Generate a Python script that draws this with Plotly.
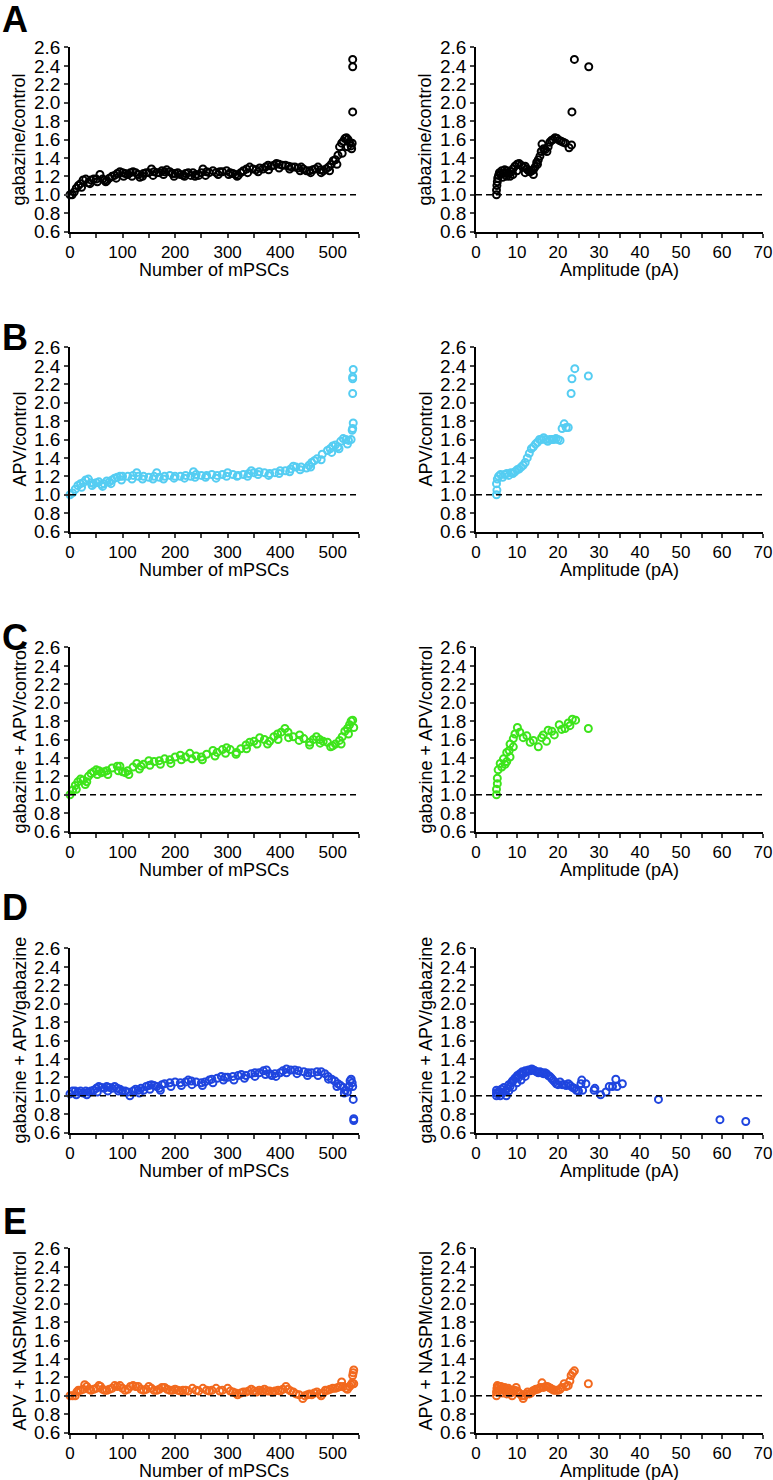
import plotly.graph_objects as go

# ratio vs cumulative rank of mPSCs (left column), ratio vs amplitude (right column)
gab_rank = [(0,1.0),(4,1.0),(8,1.03),(12,1.07),(16,1.1),(20,1.12),(25,1.16),(30,1.17),(35,1.13),(40,1.16),
            (45,1.17),(50,1.17),(57,1.22),(62,1.17),(66,1.16),(70,1.15),(75,1.18),(80,1.2),(85,1.21),(90,1.23),
            (95,1.25),(100,1.24),(105,1.23),(110,1.22),(115,1.24),(120,1.25),(125,1.24),(130,1.22),(133,1.19),
            (140,1.23),(145,1.24),(150,1.24),(155,1.28),(160,1.25),(165,1.24),(170,1.24),(175,1.26),(180,1.25),
            (184,1.27),(190,1.25),(195,1.23),(200,1.23),(205,1.24),(210,1.22),(215,1.21),(220,1.23),(225,1.24),
            (230,1.21),(234,1.24),(240,1.22),(245,1.21),(250,1.24),(253,1.28),(260,1.25),(265,1.24),(272,1.26),
            (278,1.24),(285,1.25),(290,1.25),(298,1.26),(305,1.24),(310,1.23),(315,1.22),(320,1.21),(325,1.24),
            (330,1.26),(336,1.28),(342,1.3),(348,1.28),(354,1.27),(361,1.29),(367,1.28),(372,1.3),(377,1.32),
            (383,1.31),(388,1.32),(393,1.34),(398,1.33),(404,1.32),(410,1.32),(416,1.31),(422,1.3),(428,1.3),
            (434,1.29),(440,1.3),(444,1.28),(450,1.26),(456,1.26),(462,1.27),(467,1.28),(472,1.3),(477,1.27),
            (482,1.26),(487,1.28),(492,1.3),(497,1.33),(501,1.37),(505,1.38),(510,1.43),(513,1.52),(517,1.56),
            (520,1.58),(523,1.61),(526,1.62),(529,1.6),(532,1.57),(535,1.53),(537,1.56),(538,1.9),(538,2.39),(538,2.47)]
gab_rank_low = [(22,1.08),(38,1.12),(52,1.14),(68,1.14),(88,1.18),(102,1.2),(118,1.2),(138,1.2),(158,1.21),
                (178,1.22),(198,1.2),(218,1.2),(238,1.2),(258,1.21),(282,1.22),(302,1.22),(318,1.2),(338,1.24),
                (358,1.25),(378,1.27),(398,1.29),(418,1.28),(438,1.26),(458,1.24),(478,1.24),(494,1.26),
                (508,1.33),(518,1.45),(528,1.52),(536,1.5)]
gab_amp = [(5.0,1.0),(5.0,1.05),(5.1,1.1),(5.2,1.14),(5.3,1.18),(5.5,1.21),(5.7,1.24),(6.0,1.22),(6.3,1.26),
           (6.5,1.19),(6.6,1.23),(7.0,1.27),(7.3,1.24),(7.5,1.2),(7.6,1.26),(8.0,1.23),(8.3,1.2),(8.6,1.25),
           (9.0,1.28),(9.0,1.22),(9.5,1.31),(10.0,1.33),(10.0,1.26),(10.5,1.34),(11.0,1.32),(11.5,1.3),(12.0,1.31),
           (12.0,1.24),(12.4,1.28),(12.8,1.26),(13.2,1.25),(13.6,1.26),(14.0,1.27),(14.0,1.22),(14.4,1.3),
           (14.8,1.35),(15.0,1.33),(15.2,1.38),(15.6,1.42),(15.9,1.47),(16.1,1.55),(16.5,1.5),(16.9,1.49),
           (17.3,1.47),(17.6,1.52),(18.0,1.57),(18.4,1.59),(18.8,1.6),(19.3,1.62),(19.8,1.61),(20.3,1.59),
           (20.8,1.58),(21.3,1.57),(21.8,1.56),(22.7,1.51),(23.3,1.54),(23.4,1.9),(24.0,2.47),(27.5,2.39)]

apv_rank = [(0,1.0),(5,1.02),(10,1.06),(15,1.1),(20,1.12),(25,1.13),(30,1.16),(35,1.17),(40,1.13),(45,1.12),
            (50,1.13),(55,1.14),(60,1.11),(65,1.12),(70,1.15),(75,1.14),(80,1.16),(85,1.18),(90,1.19),(95,1.2),
            (100,1.2),(110,1.2),(120,1.21),(127,1.24),(130,1.2),(140,1.2),(150,1.19),(160,1.2),(165,1.24),
            (170,1.19),(180,1.2),(190,1.21),(200,1.2),(210,1.2),(220,1.21),(230,1.2),(235,1.25),(240,1.22),
            (250,1.21),(260,1.21),(270,1.22),(280,1.21),(290,1.22),(300,1.24),(310,1.22),(320,1.21),(330,1.22),
            (340,1.23),(345,1.26),(350,1.24),(360,1.25),(370,1.24),(380,1.23),(390,1.24),(400,1.26),(410,1.26),
            (420,1.28),(425,1.31),(430,1.3),(440,1.3),(450,1.29),(455,1.32),(460,1.35),(465,1.37),(470,1.39),
            (480,1.44),(490,1.48),(495,1.5),(500,1.53),(505,1.54),(510,1.52),(515,1.58),(520,1.61),(525,1.6),
            (530,1.59),(535,1.6),(537,1.7),(538,1.72),(539,1.78),(538,2.1),(538,2.26),(538,2.28),(539,2.36)]
apv_rank_low = [(22,1.08),(42,1.1),(62,1.09),(78,1.12),(98,1.16),(118,1.17),(138,1.17),(158,1.17),(178,1.17),
                (198,1.18),(218,1.18),(238,1.19),(258,1.19),(278,1.18),(298,1.2),(318,1.2),(338,1.2),(358,1.22),
                (378,1.21),(398,1.23),(418,1.25),(438,1.27),(458,1.3),(478,1.38),(498,1.46),(512,1.5),(528,1.55)]
apv_amp = [(5.0,1.0),(5.1,1.05),(5.0,1.12),(5.2,1.17),(5.5,1.2),(6.0,1.22),(6.5,1.19),(7.0,1.22),(7.5,1.23),
           (8.0,1.21),(8.5,1.24),(9.0,1.23),(9.5,1.25),(10.0,1.27),(10.5,1.28),(11.0,1.3),(11.5,1.32),(12.0,1.35),
           (12.5,1.4),(13.0,1.45),(13.5,1.5),(14.0,1.52),(14.5,1.55),(15.0,1.57),(15.5,1.6),(16.0,1.6),(16.5,1.62),
           (17.0,1.6),(17.5,1.58),(18.0,1.6),(18.5,1.6),(19.0,1.6),(19.5,1.61),(20.0,1.6),(20.5,1.59),(21.0,1.72),
           (21.5,1.77),(22.0,1.73),(22.5,1.73),(23.2,2.1),(23.4,2.26),(24.1,2.37),(27.4,2.29)]

gab_apv_rank = [(0,1.0),(5,1.05),(10,1.1),(15,1.14),(20,1.17),(25,1.16),(29,1.11),(35,1.2),(40,1.23),(45,1.25),
                (50,1.27),(55,1.26),(60,1.24),(65,1.25),(70,1.26),(80,1.29),(90,1.31),(95,1.31),(100,1.25),
                (105,1.24),(110,1.26),(120,1.3),(127,1.34),(135,1.31),(140,1.33),(150,1.37),(160,1.36),(170,1.37),
                (180,1.39),(190,1.38),(200,1.41),(210,1.43),(220,1.41),(228,1.45),(240,1.42),(250,1.41),(260,1.44),
                (272,1.48),(280,1.46),(290,1.49),(298,1.51),(305,1.49),(317,1.46),(325,1.5),(335,1.54),(342,1.57),
                (350,1.58),(361,1.62),(370,1.6),(380,1.58),(388,1.63),(395,1.66),(402,1.68),(409,1.72),(415,1.68),
                (425,1.63),(437,1.65),(445,1.61),(456,1.57),(463,1.6),(469,1.63),(475,1.6),(482,1.58),(490,1.57),
                (500,1.53),(505,1.55),(513,1.59),(518,1.63),(523,1.69),(528,1.72),(532,1.76),(535,1.8),(538,1.81),
                (540,1.73)]
gab_apv_rank_low = [(12,1.06),(32,1.14),(52,1.22),(72,1.22),(92,1.26),(112,1.22),(132,1.28),(152,1.32),
                    (172,1.33),(192,1.34),(212,1.38),(232,1.39),(252,1.38),(276,1.42),(296,1.45),(316,1.44),
                    (336,1.5),(356,1.55),(376,1.55),(396,1.6),(416,1.62),(436,1.59),(456,1.54),(476,1.56),
                    (496,1.52),(516,1.55),(530,1.66)]
gab_apv_amp = [(5.0,1.0),(5.0,1.06),(5.2,1.12),(5.2,1.18),(5.4,1.27),(5.9,1.34),(6.3,1.3),(6.7,1.39),(7.1,1.33),
               (7.5,1.46),(7.5,1.36),(8.1,1.48),(8.3,1.41),(8.3,1.55),(9.1,1.61),(9.1,1.52),(9.5,1.66),(10.1,1.73),
               (10.7,1.68),(11.5,1.62),(12.4,1.64),(13.2,1.57),(14.0,1.59),(15.2,1.52),(16.0,1.62),(16.4,1.65),
               (17.2,1.58),(17.6,1.7),(18.5,1.69),(19.1,1.65),(20.3,1.76),(20.9,1.71),(21.7,1.72),(22.5,1.78),
               (22.9,1.75),(23.5,1.82),(24.3,1.81),(27.4,1.72)]

gab_apv_gab_rank = [(0,1.02),(5,1.05),(10,1.05),(15,1.04),(20,1.05),(25,1.03),(30,1.05),(35,1.04),(40,1.05),
                    (45,1.06),(50,1.08),(55,1.1),(60,1.09),(65,1.08),(70,1.1),(75,1.09),(80,1.08),(85,1.1),
                    (90,1.08),(95,1.07),(100,1.05),(105,1.05),(110,1.04),(114,1.0),(120,1.05),(125,1.07),
                    (130,1.06),(135,1.08),(140,1.06),(145,1.1),(150,1.11),(155,1.12),(160,1.11),(165,1.1),
                    (170,1.08),(175,1.12),(180,1.13),(190,1.14),(200,1.15),(210,1.14),(220,1.15),(225,1.17),
                    (231,1.16),(240,1.15),(250,1.14),(257,1.15),(265,1.17),(270,1.18),(280,1.19),(288,1.21),
                    (295,1.2),(300,1.2),(310,1.21),(320,1.22),(326,1.23),(335,1.22),(345,1.24),(352,1.25),
                    (360,1.25),(368,1.27),(374,1.28),(380,1.24),(384,1.22),(390,1.24),(400,1.25),(405,1.27),
                    (412,1.29),(420,1.28),(428,1.28),(435,1.27),(445,1.26),(453,1.25),(460,1.25),(470,1.26),
                    (478,1.26),(485,1.24),(491,1.21),(498,1.18),(504,1.16),(510,1.13),(515,1.11),(520,1.09),
                    (524,1.06),(528,1.04),(531,1.1),(533,1.16),(535,1.18),(537,1.14),(538,1.1),(539,0.96),
                    (540,0.73),(540,0.75)]
gab_apv_gab_rank_low = [(12,1.01),(32,1.01),(52,1.04),(72,1.05),(92,1.05),(132,1.03),(152,1.07),(172,1.06),
                        (192,1.1),(212,1.11),(232,1.12),(252,1.11),(272,1.14),(292,1.17),(312,1.17),(332,1.19),
                        (352,1.21),(372,1.23),(392,1.21),(412,1.25),(432,1.24),(452,1.22),(472,1.22),(492,1.18),
                        (508,1.1),(522,1.03)]
gab_apv_gab_amp = [(5.0,1.0),(5.0,1.03),(5.0,1.06),(5.3,1.02),(5.6,1.05),(5.9,1.0),(6.2,1.07),(6.5,1.03),
                   (6.8,1.09),(7.1,1.05),(7.4,1.0),(7.7,1.08),(8.0,1.12),(8.0,1.05),(8.3,1.1),(8.6,1.14),(8.9,1.16),
                   (9.0,1.09),(9.2,1.17),(9.5,1.19),(9.8,1.2),(10.0,1.14),(10.1,1.22),(10.4,1.2),(10.7,1.24),
                   (11.0,1.23),(11.0,1.17),(11.3,1.26),(11.6,1.24),(12.0,1.27),(12.0,1.21),(12.4,1.26),(12.8,1.28),
                   (13.2,1.27),(13.6,1.29),(14.0,1.28),(14.4,1.27),(14.8,1.26),(15.2,1.25),(15.6,1.26),(16.0,1.25),
                   (16.4,1.24),(16.8,1.25),(17.2,1.24),(17.6,1.22),(18.0,1.21),(18.4,1.19),(18.8,1.17),(19.2,1.15),
                   (19.6,1.13),(20.0,1.12),(20.5,1.15),(21.0,1.12),(21.5,1.12),(22.0,1.11),(22.5,1.13),(23.0,1.11),
                   (23.5,1.09),(24.0,1.08),(24.5,1.06),(25.0,1.05),(25.6,1.13),(25.8,1.17),(26.0,1.06),(26.8,1.13),
                   (28.8,1.06),(29.0,1.08),(30.4,1.01),(31.7,1.04),(32.5,1.1),(33.3,1.1),(34.1,1.18),(34.4,1.1),
                   (35.7,1.13),(44.5,0.96),(59.5,0.74),(65.8,0.72)]

apv_naspm_rank = [(0,1.0),(5,1.0),(10,1.0),(13,1.04),(16,1.06),(20,1.06),(25,1.07),(28,1.12),(32,1.1),(36,1.07),
                  (40,1.06),(45,1.07),(50,1.08),(55,1.11),(58,1.1),(62,1.07),(66,1.06),(70,1.06),(75,1.07),
                  (80,1.08),(85,1.11),(90,1.1),(95,1.11),(100,1.08),(105,1.06),(110,1.07),(115,1.1),(120,1.11),
                  (125,1.1),(130,1.1),(135,1.07),(140,1.06),(145,1.07),(150,1.1),(155,1.08),(160,1.06),(165,1.06),
                  (170,1.07),(175,1.09),(180,1.09),(185,1.07),(190,1.06),(195,1.06),(200,1.07),(205,1.06),
                  (210,1.05),(215,1.06),(220,1.06),(225,1.05),(233,1.08),(240,1.06),(245,1.05),(253,1.08),
                  (260,1.06),(265,1.05),(270,1.06),(278,1.08),(285,1.05),(290,1.06),(300,1.08),(305,1.05),
                  (310,1.04),(315,1.03),(319,1.01),(325,1.03),(330,1.04),(335,1.04),(340,1.05),(345,1.07),
                  (350,1.05),(355,1.04),(360,1.06),(365,1.05),(370,1.07),(375,1.05),(380,1.05),(385,1.04),
                  (390,1.05),(396,1.06),(400,1.05),(405,1.07),(411,1.1),(415,1.07),(420,1.05),(425,1.04),
                  (430,1.02),(436,1.01),(443,0.97),(447,1.0),(452,1.01),(456,1.02),(460,1.01),(465,1.03),
                  (470,1.04),(475,1.02),(478,1.0),(482,1.03),(486,1.06),(490,1.06),(495,1.07),(500,1.08),
                  (505,1.08),(510,1.09),(514,1.1),(517,1.15),(520,1.1),(525,1.08),(528,1.07),(532,1.1),(535,1.12),
                  (537,1.14),(538,1.22),(539,1.25),(540,1.28),(540,1.13)]
apv_naspm_amp = [(5.0,1.0),(5.0,1.04),(5.1,1.08),(5.2,1.11),(5.5,1.1),(5.5,1.05),(5.8,1.07),(6.1,1.1),(6.4,1.08),
                 (6.5,1.03),(6.7,1.06),(7.0,1.09),(7.3,1.07),(7.5,1.02),(7.6,1.05),(7.9,1.08),(8.2,1.06),(8.5,1.03),
                 (8.8,1.0),(9.1,1.05),(9.4,1.06),(9.8,1.09),(10.1,1.05),(10.4,1.03),(10.8,1.02),(11.2,1.0),
                 (11.5,0.97),(11.8,1.0),(12.2,1.02),(12.6,1.04),(13.0,1.02),(13.4,1.03),(13.8,1.05),(14.2,1.06),
                 (14.6,1.07),(15.0,1.07),(15.4,1.08),(15.8,1.09),(16.1,1.14),(16.5,1.09),(17.0,1.1),(17.4,1.1),
                 (17.8,1.09),(18.2,1.08),(18.6,1.07),(19.0,1.06),(19.5,1.06),(20.0,1.06),(20.5,1.07),(20.9,1.09),
                 (21.5,1.13),(22.0,1.1),(22.5,1.11),(22.9,1.16),(23.2,1.22),(23.6,1.25),(24.0,1.27),(27.4,1.13)]

rows = [
    ("A", "gabazine/control", "#000000", gab_rank + gab_rank_low, gab_amp),
    ("B", "APV/control", "#55cdf2", apv_rank + apv_rank_low, apv_amp),
    ("C", "gabazine + APV/control", "#3de41b", gab_apv_rank + gab_apv_rank_low, gab_apv_amp),
    ("D", "gabazine + APV/gabazine", "#1f45df", gab_apv_gab_rank + gab_apv_gab_rank_low, gab_apv_gab_amp),
    ("E", "APV + NASPM/control", "#f2691e", apv_naspm_rank, apv_naspm_amp),
]
y_ticks = [0.6, 0.8, 1.0, 1.2, 1.4, 1.6, 1.8, 2.0, 2.2, 2.4, 2.6]

W, H = 773, 1480
row_tops = [47, 347, 647, 948, 1248]
letter_y = [19, 337, 637, 908, 1221]
plot_h = 185
cols = [(70, 359, [0, 550], 100, "Number of mPSCs", 19),
        (476, 763, [0, 70], 10, "Amplitude (pA)", 425)]
FONT = "Liberation Sans, Arial, sans-serif"


def px(x):
    return x / W


def py(y):
    return 1 - y / H


fig = go.Figure()
annotations = []
shapes = []
n = 0
for r, (letter, ylab, color, rank_pts, amp_pts) in enumerate(rows):
    top = row_tops[r]
    ydom = [py(top + plot_h), py(top)]
    for c, pts in enumerate([rank_pts, amp_pts]):
        n += 1
        x0, x1, xr, dt, xlab, ytx = cols[c]
        xa = "xaxis" if n == 1 else "xaxis%d" % n
        ya = "yaxis" if n == 1 else "yaxis%d" % n
        xref = "x" if n == 1 else "x%d" % n
        yref = "y" if n == 1 else "y%d" % n
        fig.add_trace(go.Scatter(
            x=[p[0] for p in pts], y=[p[1] for p in pts], mode="markers",
            marker=dict(symbol="circle-open", size=7, color=color, line=dict(width=2, color=color)),
            xaxis=xref, yaxis=yref, cliponaxis=False, showlegend=False))
        fig.layout[xa] = dict(domain=[px(x0), px(x1)], range=xr, anchor=yref, showline=True, automargin=False,
                              linecolor="black", linewidth=1.5, ticks="outside", ticklen=4, tickwidth=1.5,
                              tick0=0, dtick=dt, showgrid=False, zeroline=False,
                              minor=dict(ticks="outside", ticklen=4, tickwidth=1.5, dtick=dt / 2, showgrid=False),
                              tickfont=dict(family=FONT, size=17, color="black"))
        fig.layout[ya] = dict(domain=ydom, range=[0.595, 2.605], anchor=xref, showline=True, automargin=False,
                              linecolor="black", linewidth=1.5, ticks="outside", ticklen=4, tickwidth=1.5,
                              tickvals=y_ticks, ticktext=["%.1f" % v for v in y_ticks],
                              showgrid=False, zeroline=False,
                              tickfont=dict(family=FONT, size=19, color="black"))
        shapes.append(dict(type="line", xref=xref, yref=yref, x0=xr[0], x1=xr[1], y0=1.0, y1=1.0,
                           line=dict(color="black", width=1.5, dash="6px,4px")))
        annotations.append(dict(text=ylab, textangle=-90, x=px(ytx), y=(ydom[0] + ydom[1]) / 2,
                                xref="paper", yref="paper", showarrow=False, xanchor="center", yanchor="middle",
                                font=dict(family=FONT, size=18, color="black")))
        annotations.append(dict(text=xlab, x=px((x0 + x1) / 2), y=py(top + plot_h + 38),
                                xref="paper", yref="paper", showarrow=False, xanchor="center", yanchor="middle",
                                font=dict(family=FONT, size=18, color="black")))
    annotations.append(dict(text="<b>%s</b>" % letter, x=px(15), y=py(letter_y[r]), xref="paper",
                            yref="paper", showarrow=False, xanchor="center", yanchor="middle",
                            font=dict(family=FONT, size=36, color="black")))

fig.update_layout(width=W, height=H, margin=dict(l=0, r=0, t=0, b=0, autoexpand=False),
                  paper_bgcolor="white", plot_bgcolor="white",
                  annotations=annotations, shapes=shapes)
# drop the default 8px page margin so the figure sits at the window's top-left corner
fig.write_html("out.html", config={"displayModeBar": False},
               post_script="document.body.style.margin='0';document.body.style.overflow='hidden';")
